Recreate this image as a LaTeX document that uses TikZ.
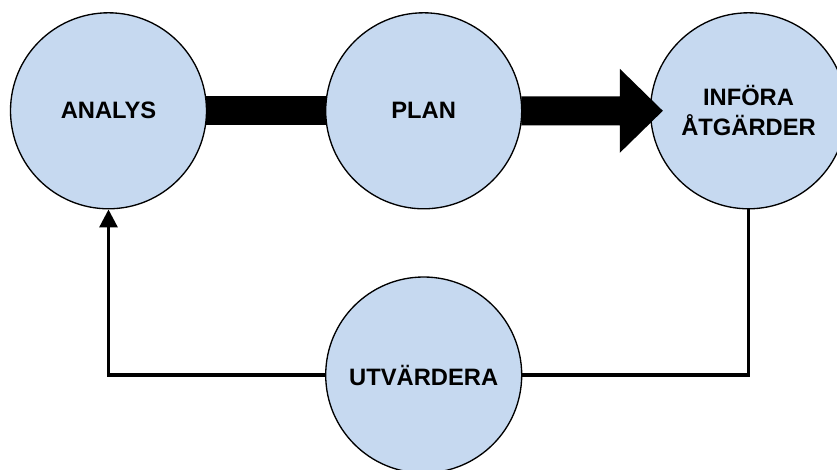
\documentclass[tikz,border=0pt]{standalone}
\usepackage{fontspec}
\setmainfont{Liberation Sans}
\usetikzlibrary{calc,arrows.meta}
\definecolor{stagefill}{RGB}{198,217,240}
\begin{document}
\begin{tikzpicture}[x=0.75pt,y=-0.75pt,
  stage/.style={circle,draw=black,line width=1pt,fill=stagefill,
    minimum size=147pt,inner sep=0pt,align=center,
    font=\fontsize{17.8}{22.5}\selectfont\bfseries},
  feedback/.style={line width=2.3pt,line join=miter},
]
\clip (0,0) rectangle (837,470);
\fill[white] (0,0) rectangle (837,470);

% the four stages of the cycle
\node[stage] (analys) at (108.5,110.8) {ANALYS};
\node[stage] (plan)   at (423.7,110.8) {PLAN};
\node[stage] (infora) at (748.5,110.8) {INFÖRA\\ÅTGÄRDER};
\node[stage] (utv)    at (423.7,375)   {UTVÄRDERA};

% thick block arrow: analys -> plan -> införa åtgärder
\coordinate (tip) at ($(infora.west)+(13,0)$);
\fill[black] ($(analys.east)+(-1,-14.5)$) rectangle ($(plan.west)+(1,14.5)$);
\fill[black] ($(plan.east)+(-1,-14.5)$) -- ($(tip)+(-43,-14.5)$)
  -- ($(tip)+(-43,-42)$) -- (tip) -- ($(tip)+(-43,42)$)
  -- ($(tip)+(-43,14.5)$) -- ($(plan.east)+(-1,14.5)$) -- cycle;

% feedback loop through the evaluation
\draw[feedback] (infora.south) |- (utv.east);
\draw[feedback,-{Triangle[length=13.5pt,width=13.5pt]}] (utv.west) -| (analys.south);
\end{tikzpicture}
\end{document}
